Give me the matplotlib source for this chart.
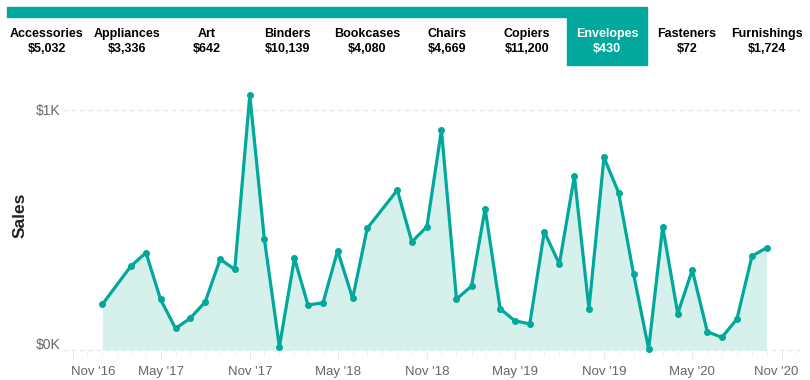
import matplotlib.pyplot as plt
import matplotlib.dates as mdates
import matplotlib.transforms as mtransforms
from matplotlib.patches import Rectangle
import pandas as pd
import numpy as np

plt.rcParams["font.family"] = ["Liberation Sans", "DejaVu Sans"]

# ===============================
categories = ['Accessories', 'Appliances', 'Art', 'Binders', 'Bookcases',
              'Chairs', 'Copiers', 'Envelopes', 'Fasteners', 'Furnishings']
cat_totals = ['$5,032', '$3,336', '$642', '$10,139', '$4,080',
              '$4,669', '$11,200', '$430', '$72', '$1,724']
selected = 'Envelopes'

months = ['2017-01', '2017-03', '2017-04', '2017-05', '2017-06', '2017-07',
          '2017-08', '2017-09', '2017-10', '2017-11', '2017-12',
          '2018-01', '2018-02', '2018-03', '2018-04', '2018-05', '2018-06',
          '2018-07', '2018-09', '2018-10', '2018-11', '2018-12',
          '2019-01', '2019-02', '2019-03', '2019-04', '2019-05', '2019-06',
          '2019-07', '2019-08', '2019-09', '2019-10', '2019-11', '2019-12',
          '2020-01', '2020-02', '2020-03', '2020-04', '2020-05', '2020-06',
          '2020-07', '2020-08', '2020-09', '2020-10']
sales = [190, 349, 405, 211, 90, 132, 200, 378, 335, 1060, 462,
         14, 381, 187, 197, 413, 215, 506, 665, 450, 513, 915,
         212, 266, 588, 172, 122, 109, 492, 358, 723, 172, 801, 655,
         316, 5, 513, 152, 333, 76, 53, 129, 391, 425]

tick_dates = ['2016-11', '2017-05', '2017-11', '2018-05', '2018-11',
              '2019-05', '2019-11', '2020-05', '2020-11']
tick_labels = ["Nov '16", "May '17", "Nov '17", "May '18", "Nov '18",
               "May '19", "Nov '19", "May '20", "Nov '20"]

teal = '#01A89B'
fill = '#D6F1EC'
gray = '#666666'

# ===============================
W, H = 810, 380
fig = plt.figure(figsize=(W / 100, H / 100), dpi=100)

def fx(px):
    return px / W

def fy(py):
    return 1 - py / H

# tab strip
fig.patches.append(Rectangle((fx(7), fy(17)), fx(640), 10 / H,
                             transform=fig.transFigure, color=teal, zorder=0))
for i, (name, total) in enumerate(zip(categories, cat_totals)):
    cx = 47 + 80 * i
    col = 'black'
    if name == selected:
        fig.patches.append(Rectangle((fx(cx - 40), fy(65)), fx(80), 48 / H,
                                     transform=fig.transFigure, color=teal, zorder=0))
        col = 'white'
    fig.text(fx(cx), fy(34), name, ha='center', va='center', fontsize=9,
             fontweight='bold', color=col)
    fig.text(fx(cx), fy(49), total, ha='center', va='center', fontsize=9,
             fontweight='bold', color=col)

# ===============================
x = pd.to_datetime(months)
ax = fig.add_axes([fx(63), fy(352), fx(737), (352 - 85) / H])

ax.fill_between(x, 0, sales, color=fill, linewidth=0, zorder=1)
ax.plot(x, sales, color=teal, linewidth=2.3, marker='o', markersize=4, zorder=3)

ax.set_xlim(pd.Timestamp('2016-10-12'), pd.Timestamp('2020-12-09'))
ax.set_ylim(-8, 1102)

ax.set_xticks(pd.to_datetime(tick_dates))
ax.set_xticklabels(tick_labels, fontsize=9.5, color=gray)
ax.xaxis.set_minor_locator(mdates.MonthLocator())
ax.tick_params(axis='x', which='major', length=5, color='#E4E4E4', pad=5)
ax.tick_params(axis='x', which='minor', length=3, color='#EDEDED')

ax.set_yticks([0, 1000])
ax.set_yticklabels(['$0K', '$1K'], fontsize=10, color=gray)
ax.tick_params(axis='y', length=0, pad=2)
ax.yaxis.grid(True, linestyle=(0, (3, 3)), color='#E6E6E6', linewidth=1)
ax.set_axisbelow(True)

for s in ax.spines.values():
    s.set_visible(False)

# Power BI nudges edge labels inward
xl = ax.get_xticklabels()
xl[0].set_ha('left')
xl[0].set_transform(xl[0].get_transform() + mtransforms.ScaledTranslation(-2 / 100, 0, fig.dpi_scale_trans))
xl[-1].set_transform(xl[-1].get_transform() + mtransforms.ScaledTranslation(-5 / 100, 0, fig.dpi_scale_trans))
yl = ax.get_yticklabels()
yl[0].set_transform(yl[0].get_transform() + mtransforms.ScaledTranslation(0, 7 / 100, fig.dpi_scale_trans))

fig.text(fx(20), fy(215), 'Sales', rotation=90, ha='center', va='center',
         fontsize=12.5, fontweight='bold', color='#222222')

plt.savefig('out.png', dpi=100)
